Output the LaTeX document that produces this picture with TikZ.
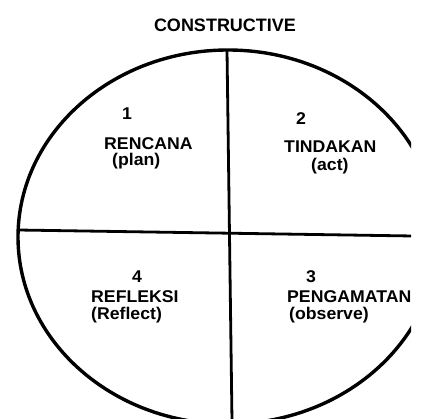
\documentclass[tikz,border=0pt]{standalone}
\usepackage{fontspec}
\setmainfont{Liberation Sans}
\newfontfamily\lblfont{Liberation Sans}[FakeStretch=1.04]
\begin{document}
\begin{tikzpicture}[x=1pt,y=-1pt,
  txt/.style={font=\lblfont\bfseries\fontsize{17}{20}\selectfont, inner sep=0pt, anchor=base west},
  num/.style={txt, anchor=base},
  ttl/.style={font=\bfseries\fontsize{18}{21}\selectfont, inner sep=0pt, anchor=base},
  rim/.style={line width=3.4pt, black},
  ln/.style={line width=2.8pt, black}]
\useasboundingbox (0,0) rectangle (425,419);
\node[ttl] (title) at (225,32) {CONSTRUCTIVE};
\begin{scope}
  \clip (0,0) rectangle (411,419);
  \coordinate (c) at (228,237);
  \draw[rim] (c) ellipse [x radius=210pt, y radius=187pt];
  \coordinate (hl) at (18,230);
  \coordinate (hr) at (413,236);
  \coordinate (vt) at (227,50);
  \coordinate (vb) at (232,421);
  \draw[ln] (hl) -- (hr);
  \draw[ln] (vt) -- (vb);
  % quadrant 1
  \node[num] (n1) at (127,120) {1};
  \node[txt] (t1) at (104,150) {RENCANA};
  \node[txt] (p1) at (112,166) {(plan)};
  % quadrant 2
  \node[num] (n2) at (301,125) {2};
  \node[txt] (t2) at (284,153) {TINDAKAN};
  \node[txt] (p2) at (311,171) {(act)};
  % quadrant 4
  \node[num] (n4) at (137,283) {4};
  \node[txt] (t4) at (91,302) {REFLEKSI};
  \node[txt] (p4) at (91,319) {(Reflect)};
  % quadrant 3
  \node[num] (n3) at (311,283) {3};
  \node[txt] (t3) at (287,302) {PENGAMATAN};
  \node[txt] (p3) at (289,319) {(observe)};
\end{scope}
\end{tikzpicture}
\end{document}
